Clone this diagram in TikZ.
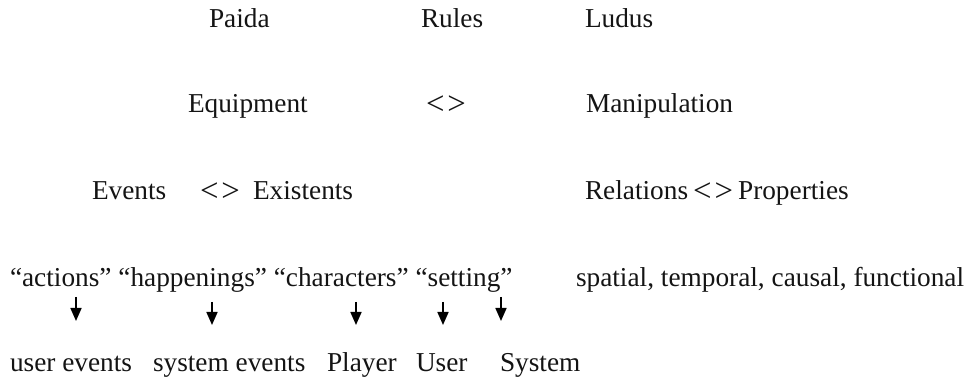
\documentclass[tikz,border=0pt]{standalone}
\usepackage{fontspec}
\usepackage{graphicx}
\setmainfont{Liberation Serif}
\usetikzlibrary{arrows.meta}
% slightly enlarged angle-bracket pair used as a relation sign
\newcommand\relsign{\raisebox{-1.5pt}{\scalebox{1.2}{<}\kern3pt\scalebox{1.2}{>}}}
\begin{document}
\begin{tikzpicture}[x=1pt,y=-1pt,
  lbl/.style={anchor=base west,inner sep=0pt,outer sep=0pt,font=\fontsize{27.3}{30}\selectfont,text=black!92},
  maparrow/.style={line width=1.7pt,-{Triangle[length=13pt,width=11pt]}}]
\useasboundingbox (0,0) rectangle (967,379);
% top row
\node[lbl] (paida) at (209,28) {Paida};
\node[lbl] (rules) at (421,28) {Rules};
\node[lbl] (ludus) at (585,28) {Ludus};
% second row
\node[lbl] (equip) at (188,113) {Equipment};
\node[lbl] (rel1) at (426,113) {\relsign};
\node[lbl] (manip) at (586,113) {Manipulation};
% third row
\node[lbl] (events) at (92,200) {Events};
\node[lbl] (rel2) at (200,200) {\relsign};
\node[lbl] (exist) at (253,200) {Existents};
\node[lbl] (relat) at (585,200) {Relations\kern5pt\relsign\kern5pt Properties};
% fourth row
\node[lbl] (kinds) at (10,287) {“actions” “happenings” “characters” “setting”};
\node[lbl] (links) at (576,287) {spatial, temporal, causal, functional};
% bottom row
\node[lbl] (uev) at (10,372) {user events};
\node[lbl] (sev) at (153,372) {system events};
\node[lbl] (player) at (327,372) {Player};
\node[lbl] (user) at (416,372) {User};
\node[lbl] (system) at (500,372) {System};
% arrow end points
\coordinate (a1) at (76,297);  \coordinate (b1) at (76,321);
\coordinate (a2) at (212,302); \coordinate (b2) at (212,325);
\coordinate (a3) at (356,302); \coordinate (b3) at (356,325);
\coordinate (a4) at (443,302); \coordinate (b4) at (443,325);
\coordinate (a5) at (501,297); \coordinate (b5) at (501,321);
\foreach \i in {1,...,5} \draw[maparrow] (a\i) -- (b\i);
\end{tikzpicture}
\end{document}
